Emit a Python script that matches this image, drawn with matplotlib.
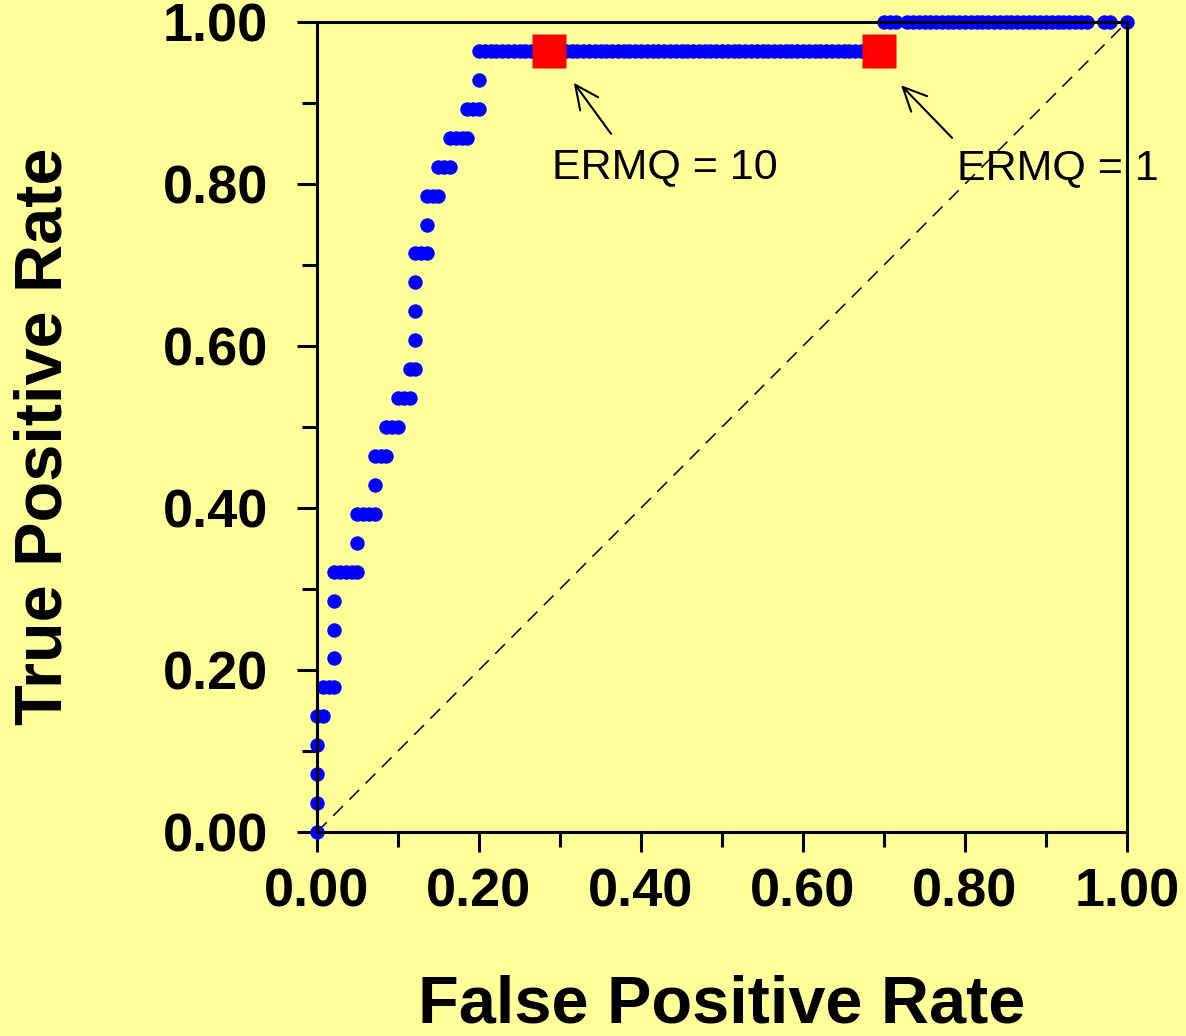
import numpy as np
import matplotlib
matplotlib.use("Agg")
import matplotlib.pyplot as plt
from matplotlib.ticker import MultipleLocator, FormatStrFormatter

plt.rcParams['font.family'] = ['Liberation Sans', 'DejaVu Sans']

# ---- data: ROC points (counts of true positives / false positives) ----
n_pos = 28
n_neg = 140
tp_level = [0, 1, 2, 3, 4, 5, 6, 7, 8, 9, 10, 11, 12, 13, 14, 15, 16, 17, 18, 19,
            20, 21, 22, 23, 24, 25, 26, 27, 28, 28, 28, 28]
fp_from = [0, 0, 0, 0, 0, 1, 3, 3, 3, 3, 7, 7, 10, 10, 12, 14, 16, 17, 17, 17,
           17, 19, 19, 21, 23, 26, 28, 28, 98, 102, 136, 140]
fp_to = [0, 0, 0, 0, 1, 3, 3, 3, 3, 7, 7, 10, 10, 12, 14, 16, 17, 17, 17, 17,
         19, 19, 21, 23, 26, 28, 28, 97, 100, 133, 137, 140]

# operating points marked for ERMQ thresholds
ermq_labels = ["ERMQ = 10", "ERMQ = 1"]
ermq_fpr = [0.286, 0.694]
ermq_tpr = [0.964, 0.964]

# chance diagonal
diag_x = [0.0, 1.0]
diag_y = [0.0, 1.0]

tick_values = [0.0, 0.2, 0.4, 0.6, 0.8, 1.0]

# ---- build ROC points ----
fpr, tpr = [], []
for lvl, a, b in zip(tp_level, fp_from, fp_to):
    for fp in range(a, b + 1):
        fpr.append(fp / n_neg)
        tpr.append(lvl / n_pos)
fpr = np.array(fpr)
tpr = np.array(tpr)

bg = '#FFFF99'
W, H = 1186, 1036
fig = plt.figure(figsize=(W / 100, H / 100), dpi=100, facecolor=bg)
ax = fig.add_axes([317 / W, (H - 832) / H, 810 / W, 810 / H])
ax.set_facecolor(bg)

ax.plot(diag_x, diag_y, color='black', lw=1.1, linestyle=(0, (9, 6)), zorder=1)
ax.plot(fpr, tpr, linestyle='none', marker='o', ms=10.4, mfc='#0000FF',
        mec='none', clip_on=False, zorder=2)
ax.plot(ermq_fpr, ermq_tpr, linestyle='none', marker='s', ms=24.5,
        mfc='#FF0000', mec='none', clip_on=False, zorder=3)

# annotations
arrow_heads = [(0.317, 0.925), (0.721, 0.922)]
arrow_tails = [(0.363, 0.862), (0.784, 0.857)]
text_pos = [(0.290, 0.821), (0.790, 0.820)]
for lab, head, tail, tp in zip(ermq_labels, arrow_heads, arrow_tails, text_pos):
    ax.annotate('', xy=head, xytext=tail,
                arrowprops=dict(arrowstyle='->,head_length=0.85,head_width=0.4',
                                mutation_scale=20, lw=1.5, color='black',
                                shrinkA=0, shrinkB=0))
    ax.text(tp[0], tp[1], lab, fontsize=31, ha='left', va='center',
            color='black', zorder=4)

ax.set_xlim(0, 1)
ax.set_ylim(0, 1)
ax.set_xticks(tick_values)
ax.set_yticks(tick_values)
ax.xaxis.set_minor_locator(MultipleLocator(0.1))
ax.yaxis.set_minor_locator(MultipleLocator(0.1))
ax.xaxis.set_major_formatter(FormatStrFormatter('%.2f'))
ax.yaxis.set_major_formatter(FormatStrFormatter('%.2f'))

for s in ax.spines.values():
    s.set_linewidth(2.2)
    s.set_zorder(5)

ax.tick_params(which='major', direction='out', length=14.4, width=2.2,
               labelsize=39, pad=11)
ax.tick_params(axis='y', which='major', pad=21)
ax.tick_params(which='minor', direction='out', length=10.8, width=2.2)
for lab in ax.get_xticklabels() + ax.get_yticklabels():
    lab.set_fontweight('bold')

ax.set_xlabel('False Positive Rate', fontsize=48, fontweight='bold', va='center')
ax.set_ylabel('True Positive Rate', fontsize=48, fontweight='bold', va='center')
ax.xaxis.set_label_coords(0.5, -0.2136)
ax.yaxis.set_label_coords(-0.336, 0.488)

fig.savefig('out.png', dpi=100, facecolor=bg)
